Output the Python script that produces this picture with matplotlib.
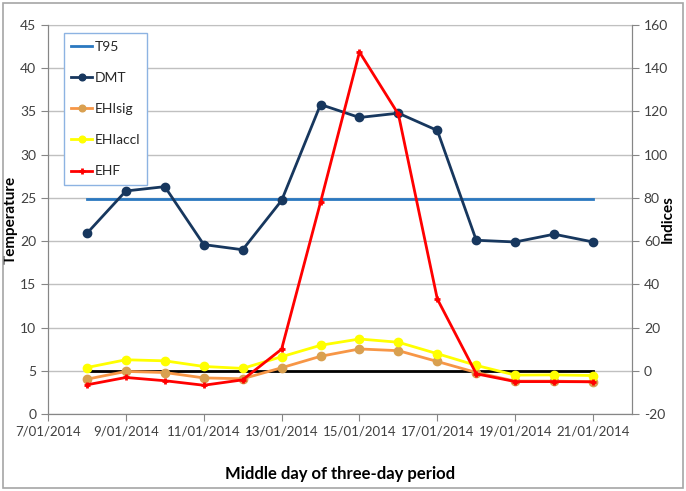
import matplotlib
matplotlib.use("Agg")
import matplotlib.pyplot as plt
import matplotlib.dates as mdates
from matplotlib.patches import Rectangle
import numpy as np
import datetime as dt

plt.rcParams['font.family'] = ['Lato', 'DejaVu Sans']
plt.rcParams['axes.unicode_minus'] = False

days = [8, 9, 10, 11, 12, 13, 14, 15, 16, 17, 18, 19, 20, 21]
dates = [dt.date(2014, 1, d) for d in days]

t95 = [24.9] * len(days)
dmt = [20.9, 25.8, 26.3, 19.6, 19.0, 24.7, 35.8, 34.3, 34.8, 32.8, 20.1, 19.9, 20.8, 19.9]
ehisig = [-3.9, -0.3, -0.8, -3.3, -3.7, 1.4, 6.7, 10.1, 9.3, 4.3, -0.8, -4.8, -4.8, -5.1]
ehiaccl = [1.5, 5.1, 4.6, 2.0, 1.1, 6.5, 11.8, 14.7, 13.2, 7.9, 2.5, -2.0, -1.9, -2.2]
ehf = [-6.5, -3.1, -4.6, -6.7, -4.2, 10.0, 78.0, 147.5, 118.7, 33.2, -1.4, -5.0, -5.0, -5.1]
zero_line = [0] * len(days)

fig = plt.figure(figsize=(6.86, 4.91), dpi=100)
ax1 = fig.add_axes([48/686, 1-414/491, (632-48)/686, (414-25)/491])
ax2 = ax1.twinx()

# outer chart border
fig.patches.append(Rectangle((3/686, 3/491), 680/686, 485/491, transform=fig.transFigure,
                             fill=False, edgecolor='#a6a6a6', linewidth=1.2))

grid_c = '#c0c0c0'
ax1.set_ylim(0, 45)
ax1.set_yticks(np.arange(0, 46, 5))
ax1.yaxis.grid(True, color=grid_c, linewidth=1)
ax1.set_axisbelow(True)
ax2.set_ylim(-20, 160)
ax2.set_yticks(np.arange(-20, 161, 20))

ax1.set_xlim(dt.date(2014, 1, 7), dt.date(2014, 1, 22))
ax1.xaxis.set_major_locator(mdates.DayLocator(bymonthday=[7, 9, 11, 13, 15, 17, 19, 21]))
ax1.xaxis.set_major_formatter(mdates.DateFormatter('%-d/%m/%Y'))

l_t95, = ax1.plot(dates, t95, color='#2a78c0', lw=2, label='T95')
l_dmt, = ax1.plot(dates, dmt, color='#17375e', lw=2, marker='o', ms=6, label='DMT')

ax2.plot(dates, zero_line, color='black', lw=2)
l_sig, = ax2.plot(dates, ehisig, color='#f79646', lw=2, marker='o', ms=6,
                  markerfacecolor='#d9a050', markeredgecolor='#d9a050', label='EHIsig')
l_acc, = ax2.plot(dates, ehiaccl, color='#ffff00', lw=2, marker='o', ms=6, label='EHIaccl')
l_ehf, = ax2.plot(dates, ehf, color='#ff0000', lw=2, marker='+', ms=5, mew=2, label='EHF')

spine_c = '#868686'
for ax in (ax1, ax2):
    for s in ax.spines.values():
        s.set_color(spine_c)
    ax.spines['top'].set_visible(False)
    ax.tick_params(colors=spine_c, labelcolor='#404040', labelsize=10, length=5)
ax1.tick_params(axis='x', labelsize=9.5)
ax1.spines['top'].set_visible(True)
ax1.spines['top'].set_color(grid_c)

ax1.set_ylabel('Temperature', fontweight='bold', fontsize=11, color='black')
ax1.yaxis.set_label_coords(-0.052, 0.5)
ax2.set_ylabel('Indices', fontweight='bold', fontsize=11, color='black')
ax2.yaxis.set_label_coords(1.05, 0.5)
ax1.set_xlabel('Middle day of three-day period', fontweight='bold', fontsize=12, color='black')
ax1.xaxis.set_label_coords(0.5, -0.134)

leg = ax2.legend(handles=[l_t95, l_dmt, l_sig, l_acc, l_ehf], loc='upper left',
                 bbox_to_anchor=(0.027, 0.979), fancybox=False, framealpha=1,
                 edgecolor='#8db3e2', prop={'family': 'Lato', 'size': 10},
                 labelspacing=1.38, handlelength=1.5,
                 handletextpad=0.15, borderpad=0.55, borderaxespad=0, markerscale=0.8)
leg.get_frame().set_linewidth(1)
for t in leg.get_texts():
    t.set_color('#262626')

fig.savefig('out.png', dpi=100)
